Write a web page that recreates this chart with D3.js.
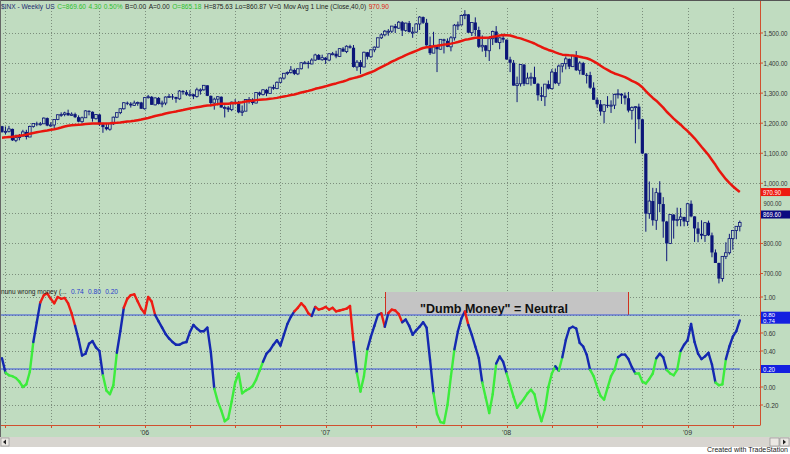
<!DOCTYPE html>
<html><head><meta charset="utf-8">
<script src="https://cdn.jsdelivr.net/npm/d3@7"></script>
<style>body{margin:0;background:#fff}svg{display:block}text{font-family:Arial,"Liberation Sans",sans-serif}</style>
</head><body><svg id="c" width="790" height="454"></svg>
<script>
// ---------- DATA ----------
const firstWeek = "2005-03-25"; // weekly bars
const priorCloses = [1134,1125,1113,1101,1086,1102,1064,1065,1099,1108,1114,1124,1129,1110,1132,1122,1108,1096,1130,1166,
1184,1170,1183,1191,1188,1194,1210,1212,1186,1185,1168,1171,1203,1205,1202,1211,1222,1200,1190];
const opens = [1190,1171,1173,1181,1143,1152,1157,1171,1154,1189,
1199,1196,1198,1217,1192,1194,1212,1228,1229,1234,
1226,1230,1220,1205,1218,1241,1238,1215,1229,1196,
1187,1180,1198,1220,1235,1248,1268,1265,1259,1267,
1269,1248,1285,1288,1261,1284,1264,1267,1287,1289,
1287,1281,1307,1303,1295,1296,1289,1311,1311,1326,
1291,1267,1280,1288,1252,1252,1245,1270,1265,1236,
1240,1279,1279,1267,1302,1295,1311,1299,1320,1315,
1336,1350,1366,1369,1377,1364,1381,1401,1401,1397,
1410,1427,1411,1418,1410,1431,1431,1422,1448,1438,
1456,1451,1387,1403,1387,1436,1421,1444,1453,1484,
1494,1506,1506,1523,1516,1536,1508,1533,1503,1503,
1530,1553,1534,1459,1433,1454,1446,1479,1474,1454,
1484,1526,1527,1558,1562,1501,1535,1510,1454,1459,
1441,1481,1505,1468,1484,1478,1412,1401,1325,1331,
1395,1331,1350,1353,1331,1293,1288,1330,1315,1370,
1333,1390,1398,1414,1388,1425,1376,1400,1361,1360,
1318,1278,1263,1239,1261,1258,1260,1296,1298,1292,
1283,1242,1252,1255,1213,1099,899,941,877,969,
931,873,800,896,876,880,888,873,932,890,
850,832,826,869,827,770,735,683,757,769,
816,843,857];
const highs = [1191,1189,1191,1182,1162,1164,1178,1178,1192,1199,
1205,1204,1219,1219,1203,1212,1229,1236,1238,1245,
1236,1235,1226,1222,1243,1243,1239,1230,1230,1201,
1199,1200,1222,1236,1249,1270,1272,1270,1275,1272,
1271,1287,1294,1290,1286,1287,1275,1289,1297,1297,
1288,1310,1310,1310,1310,1298,1318,1316,1327,1326,
1292,1285,1290,1289,1259,1257,1272,1280,1274,1259,
1280,1287,1283,1303,1305,1313,1314,1320,1328,1339,
1351,1367,1372,1390,1382,1382,1403,1407,1407,1416,
1431,1430,1428,1420,1432,1437,1441,1449,1453,1459,
1461,1460,1410,1410,1438,1437,1445,1455,1485,1499,
1510,1513,1523,1530,1540,1540,1534,1540,1520,1533,
1556,1555,1547,1488,1504,1456,1480,1481,1482,1490,
1530,1538,1560,1576,1563,1536,1552,1521,1492,1460,
1488,1508,1523,1485,1497,1478,1421,1410,1355,1396,
1396,1368,1368,1388,1334,1321,1330,1342,1380,1382,
1395,1400,1422,1415,1426,1440,1406,1404,1367,1371,
1336,1286,1277,1262,1290,1276,1298,1313,1300,1302,
1304,1256,1256,1265,1215,1100,1006,985,984,1007,
954,875,897,897,919,918,889,935,943,890,
871,877,870,876,836,780,736,758,804,832,
845,857,876];
const lows = [1168,1163,1169,1141,1137,1143,1156,1146,1154,1185,
1190,1192,1197,1190,1188,1184,1210,1221,1223,1225,
1224,1217,1203,1201,1218,1226,1205,1212,1191,1168,
1176,1175,1194,1217,1230,1245,1260,1252,1258,1258,
1248,1245,1282,1261,1259,1262,1253,1260,1285,1278,
1268,1278,1295,1291,1288,1280,1285,1295,1308,1290,
1256,1245,1259,1252,1219,1237,1240,1262,1233,1224,
1240,1265,1261,1266,1290,1292,1290,1297,1311,1313,
1333,1345,1360,1365,1360,1360,1379,1398,1382,1396,
1407,1410,1408,1397,1406,1426,1416,1420,1438,1433,
1448,1385,1374,1364,1386,1412,1417,1436,1451,1480,
1489,1491,1500,1500,1514,1490,1504,1502,1484,1500,
1510,1530,1458,1427,1433,1370,1445,1432,1453,1439,
1475,1510,1525,1546,1500,1490,1490,1450,1438,1420,
1407,1460,1467,1446,1468,1411,1370,1325,1270,1322,
1324,1331,1325,1330,1275,1274,1257,1312,1312,1330,
1324,1369,1379,1380,1387,1374,1362,1360,1332,1314,
1278,1252,1225,1200,1251,1234,1247,1282,1264,1262,
1236,1212,1133,1180,1097,839,882,859,845,904,
819,741,798,816,857,857,857,858,887,805,
804,814,805,825,754,735,667,673,748,763,
779,814,840];
const closes = [1171,1173,1181,1143,1152,1157,1171,1154,1189,1199,
1196,1198,1217,1192,1194,1212,1228,1229,1234,1226,
1230,1220,1205,1218,1241,1238,1215,1229,1196,1187,
1180,1198,1220,1235,1248,1268,1265,1259,1267,1269,
1248,1285,1288,1261,1284,1264,1267,1287,1289,1287,
1281,1307,1303,1295,1296,1289,1311,1311,1326,1291,
1267,1280,1288,1252,1252,1245,1270,1265,1236,1240,
1279,1279,1267,1302,1295,1311,1299,1320,1315,1336,
1350,1366,1369,1377,1364,1381,1401,1401,1397,1410,
1427,1411,1418,1410,1431,1431,1422,1448,1438,1456,
1451,1387,1403,1387,1436,1421,1444,1453,1484,1494,
1506,1506,1523,1516,1536,1508,1533,1503,1503,1530,
1553,1534,1459,1433,1454,1446,1479,1474,1454,1484,
1526,1527,1558,1562,1501,1535,1510,1454,1459,1441,
1481,1505,1468,1484,1478,1412,1401,1325,1331,1395,
1331,1350,1353,1331,1293,1288,1330,1315,1370,1333,
1390,1398,1414,1388,1425,1376,1400,1361,1360,1318,
1278,1263,1239,1261,1258,1260,1296,1298,1292,1283,
1242,1252,1255,1213,1099,899,941,877,969,931,
873,800,896,876,880,888,873,932,890,850,
832,826,869,827,770,735,683,757,769,816,
843,857,869.6];
const dumbMoney = [0.32,0.16,0.13,0.12,0.10,0.06,0.00,0.03,0.17,0.50,
0.72,0.94,1.02,1.04,0.98,0.93,1.00,0.98,0.99,0.93,
0.82,0.68,0.53,0.35,0.37,0.48,0.51,0.44,0.40,0.13,
-0.04,-0.08,0.02,0.38,0.62,0.88,0.98,1.02,1.03,0.95,
0.87,0.82,1.00,0.95,0.80,0.73,0.66,0.59,0.54,0.50,
0.47,0.47,0.49,0.50,0.61,0.69,0.65,0.62,0.62,0.66,
0.39,-0.02,-0.16,-0.26,-0.38,-0.35,-0.16,0.05,0.15,-0.07,
-0.04,-0.02,0.01,0.08,0.18,0.28,0.37,0.41,0.47,0.52,
0.46,0.58,0.70,0.78,0.84,0.88,0.93,0.89,0.82,0.79,
0.89,0.86,0.87,0.89,0.86,0.88,0.84,0.85,0.86,0.87,
0.90,0.50,0.15,-0.05,0.12,0.42,0.56,0.68,0.80,0.82,
0.67,0.82,0.86,0.85,0.81,0.72,0.75,0.68,0.58,0.63,
0.67,0.72,0.66,0.30,-0.07,-0.30,-0.39,-0.40,-0.20,0.12,
0.42,0.62,0.76,0.84,0.69,0.58,0.45,0.32,0.05,-0.12,
-0.29,-0.08,0.26,0.34,0.28,0.15,0.02,-0.11,-0.23,-0.18,
-0.13,-0.07,-0.03,-0.08,-0.25,-0.38,-0.25,0.00,0.15,0.23,
0.18,0.33,0.52,0.65,0.67,0.65,0.49,0.45,0.36,0.19,
0.12,0.00,-0.10,-0.14,-0.01,0.12,0.19,0.33,0.36,0.36,
0.31,0.22,0.15,0.15,0.06,0.04,0.09,0.15,0.32,0.37,
0.33,0.19,0.15,0.13,0.19,0.40,0.47,0.52,0.70,0.50,
0.37,0.31,0.34,0.38,0.25,0.05,0.02,0.03,0.31,0.45,
0.56,0.62,0.74];
const upperLevel = 0.80, lowerLevel = 0.20;
const maLength = 40;
const maLastLabel = "970.90";
const priceTicks = [700,800,900,1000,1100,1200,1300,1400,1500];
const indTicks = [-0.2,0,0.4,0.6,1.0];
const indGrid = [-0.2,0,0.2,0.4,0.6,0.8,1.0];
const statusParts = [
 {t:"$INX - Weekly", c:"#1c2a6e"},{t:"US", c:"#1c2a6e"},{t:"C=869.60", c:"#2ec02e"},{t:"4.30", c:"#2ec02e"},
 {t:"0.50%", c:"#2ec02e"},{t:"B=0.00", c:"#222"},{t:"A=0.00", c:"#222"},{t:"O=865.18", c:"#2ec02e"},
 {t:"H=875.63", c:"#222"},{t:"Lo=860.87", c:"#222"},{t:"V=0", c:"#222"},{t:"Mov Avg 1 Line (Close,40,0)", c:"#222"},
 {t:"970.90", c:"#e02010"}];
const indLabelParts = [{t:"nunu wrong money (...", c:"#222"},{t:"0.74",c:"#2a3ccc"},{t:"0.80",c:"#2a3ccc"},{t:"0.20",c:"#2a3ccc"}];
const noteText = "\"Dumb Money\" = Neutral";

// ---------- SETUP ----------
const W=790,H=454, AXX=760, BOT=425;
const BG="#c0dcc0", NAVY="#0c1678", RED="#e8160e", GRID="#7c8e7c", AXC="#d0502e";
const svg=d3.select("#c");
const n=closes.length;
const x=d3.scaleLinear().domain([0,n-1]).range([2,739.8]);
const y=d3.scaleLinear().domain([700,1500]).range([273.5,33]);
const yi=d3.scaleLinear().domain([-0.2,1.0]).range([405,297]);
const t0=d3.isoParse(firstWeek);
const dates=d3.range(n).map(i=>d3.timeDay.offset(t0,7*i));
const qStarts=d3.range(1,n).filter(i=>Math.floor(dates[i].getMonth()/3)!==Math.floor(dates[i-1].getMonth()/3));
const yStarts=d3.range(1,n).filter(i=>dates[i].getFullYear()!==dates[i-1].getFullYear());
const allCloses=priorCloses.concat(closes);
const ma=closes.map((c,i)=>d3.mean(allCloses.slice(i+priorCloses.length-maLength+1,i+priorCloses.length+1)));

svg.append("rect").attr("width",W).attr("height",H).attr("fill","#fff");
svg.append("rect").attr("width",W).attr("height",437).attr("fill",BG);

// gridlines
const g=svg.append("g").attr("stroke",GRID).attr("stroke-dasharray","1,2").attr("stroke-width",1);
priceTicks.forEach(v=>g.append("line").attr("x1",0).attr("x2",AXX).attr("y1",Math.round(y(v))+0.5).attr("y2",Math.round(y(v))+0.5));
indGrid.forEach(v=>g.append("line").attr("x1",0).attr("x2",AXX).attr("y1",Math.round(yi(v))+0.5).attr("y2",Math.round(yi(v))+0.5));
qStarts.forEach(i=>g.append("line").attr("x1",Math.round(x(i))+0.5).attr("x2",Math.round(x(i))+0.5).attr("y1",8).attr("y2",BOT));

// note box
svg.append("rect").attr("x",385).attr("y",292).attr("width",243).attr("height",23).attr("fill","#c4c4c4");
svg.append("line").attr("x1",385.5).attr("x2",385.5).attr("y1",292).attr("y2",315).attr("stroke","#d03020");
svg.append("line").attr("x1",628.5).attr("x2",628.5).attr("y1",292).attr("y2",315).attr("stroke","#d03020");
svg.append("text").attr("x",494).attr("y",312.5).attr("text-anchor","middle").attr("font-size",12).attr("font-weight","bold")
 .attr("fill","#111").attr("textLength",148).attr("lengthAdjust","spacingAndGlyphs").text(noteText);

// candles
const cg=svg.append("g");
closes.forEach((c,i)=>{
  const o=opens[i], hi=Math.max(highs[i],o,c), lo=Math.min(lows[i],o,c);
  const cx=x(i);
  cg.append("line").attr("x1",cx).attr("x2",cx).attr("y1",y(hi)).attr("y2",y(lo)).attr("stroke",NAVY).attr("stroke-width",1);
  const top=y(Math.max(o,c)), bot=y(Math.min(o,c));
  const h=Math.max(1,bot-top);
  if(c>=o){
    cg.append("rect").attr("x",cx-1.3).attr("y",top).attr("width",2.6).attr("height",h).attr("fill",BG).attr("stroke",NAVY).attr("stroke-width",0.8);
  } else {
    cg.append("rect").attr("x",cx-1.6).attr("y",top).attr("width",3.2).attr("height",h).attr("fill",NAVY);
  }
});

// moving average
svg.append("path").datum(ma).attr("fill","none").attr("stroke",RED).attr("stroke-width",2.5).attr("stroke-linejoin","round")
 .attr("d",d3.line().x((d,i)=>x(i)).y(d=>y(d)));

// indicator level lines
[upperLevel,lowerLevel].forEach(v=>svg.append("line").attr("x1",0).attr("x2",x(n-1)).attr("y1",yi(v)).attr("y2",yi(v)).attr("stroke","#3a52dc").attr("stroke-width",1));

// indicator segments
const colFor=v=>v>upperLevel?"#ee1c14":(v<lowerLevel?"#3cec3c":"#1428b0");
const ig=svg.append("g").attr("fill","none").attr("stroke-width",2.4).attr("stroke-linecap","round");
for(let i=0;i<n-1;i++){
  ig.append("line").attr("x1",x(i)).attr("y1",yi(dumbMoney[i])).attr("x2",x(i+1)).attr("y2",yi(dumbMoney[i+1])).attr("stroke",colFor(dumbMoney[i]));
}

// axes
svg.append("line").attr("x1",AXX+0.5).attr("x2",AXX+0.5).attr("y1",0).attr("y2",BOT).attr("stroke",AXC);
svg.append("line").attr("x1",0).attr("x2",AXX+0.5).attr("y1",BOT+0.5).attr("y2",BOT+0.5).attr("stroke",AXC);
const fmtP=d3.format(",.2f"), fmtI=d3.format(".2f");
priceTicks.forEach(v=>{
  const yy=y(v)+(v===900?-10:0);
  const s=fmtP(v);
  svg.append("line").attr("x1",AXX).attr("x2",AXX+3).attr("y1",y(v)).attr("y2",y(v)).attr("stroke",AXC);
  svg.append("text").attr("x",763.5).attr("y",yy+2.5).attr("font-size",7).attr("fill","#333")
   .attr("textLength",s.length*3).attr("lengthAdjust","spacingAndGlyphs").text(s);
});
indGrid.forEach(v=>svg.append("line").attr("x1",AXX).attr("x2",AXX+3).attr("y1",yi(v)).attr("y2",yi(v)).attr("stroke",AXC));
indTicks.forEach(v=>{
  const s=v<0?"-"+fmtI(-v):fmtI(v);
  svg.append("text").attr("x",763.5).attr("y",yi(v)+2.5).attr("font-size",7).attr("fill","#333")
   .attr("textLength",s.length*3).attr("lengthAdjust","spacingAndGlyphs").text(s);
});
qStarts.forEach(i=>svg.append("line").attr("x1",Math.round(x(i))+0.5).attr("x2",Math.round(x(i))+0.5).attr("y1",BOT).attr("y2",BOT+3).attr("stroke",AXC));
yStarts.forEach(i=>svg.append("text").attr("x",x(i)).attr("y",435).attr("text-anchor","middle").attr("font-size",7).attr("fill","#333")
 .text("'"+String(dates[i].getFullYear()).slice(2)));

// value boxes
function vbox(yc,h,lines,fill){
  svg.append("rect").attr("x",AXX+1).attr("y",yc-h/2).attr("width",W-AXX-1).attr("height",h).attr("fill",fill);
  const fs=lines.length>1?5.2:6.5;
  lines.forEach((s,k)=>svg.append("text").attr("x",763).attr("y",yc-h/2+(lines.length>1?5.3:6.5)+k*5.6).attr("font-size",fs).attr("fill","#fff")
   .attr("textLength",s.length*3).attr("lengthAdjust","spacingAndGlyphs").text(s));
}
vbox(y(ma[n-1]),8,[maLastLabel],"#ee1a10");
vbox(y(closes[n-1])-8,8,[fmtI(closes[n-1])],"#0a0a80");
vbox((yi(upperLevel)+yi(dumbMoney[n-1]))/2,12,[fmtI(upperLevel),fmtI(dumbMoney[n-1])],"#1420e0");
vbox(yi(lowerLevel),8,[fmtI(lowerLevel)],"#1420e0");

// sequential text runs laid out by measured width
function run(parts,x0,x1,yy,fs){
  const nodes=parts.map(p=>svg.append("text").attr("y",yy).attr("font-size",fs).attr("fill",p.c).text(p.t));
  const ws=nodes.map(nd=>nd.node().getComputedTextLength());
  const gap=Math.max(2.5,(x1-x0-d3.sum(ws))/(parts.length-1));
  let cx=x0;
  nodes.forEach((nd,k)=>{nd.attr("x",cx);cx+=ws[k]+gap;});
}
run(statusParts,1,384,9,6.6);
run(indLabelParts,1,118,294,6.6);

// frame
svg.append("line").attr("x1",0).attr("x2",W).attr("y1",0.5).attr("y2",0.5).attr("stroke","#555");
svg.append("line").attr("x1",0.5).attr("x2",0.5).attr("y1",0).attr("y2",447).attr("stroke","#666");

// scrollbar and footer
svg.append("rect").attr("x",0).attr("y",437).attr("width",W).attr("height",10).attr("fill","#d8d5d0");
svg.append("rect").attr("x",1).attr("y",438).attr("width",8).attr("height",8).attr("fill","#ece9e4").attr("stroke","#888").attr("stroke-width",0.6);
svg.append("rect").attr("x",770).attr("y",438).attr("width",9).attr("height",8).attr("fill","#ece9e4").attr("stroke","#888").attr("stroke-width",0.6);
svg.append("rect").attr("x",780).attr("y",438).attr("width",9).attr("height",8).attr("fill","#ece9e4").attr("stroke","#888").attr("stroke-width",0.6);
svg.append("path").attr("d","M3,442 L6,439.5 L6,444.5 Z").attr("fill","#222");
svg.append("path").attr("d","M786,442 L783,439.5 L783,444.5 Z").attr("fill","#222");
svg.append("text").attr("x",788).attr("y",452).attr("text-anchor","end").attr("font-size",7).attr("fill","#222").text("Created with TradeStation");
</script></body></html>
